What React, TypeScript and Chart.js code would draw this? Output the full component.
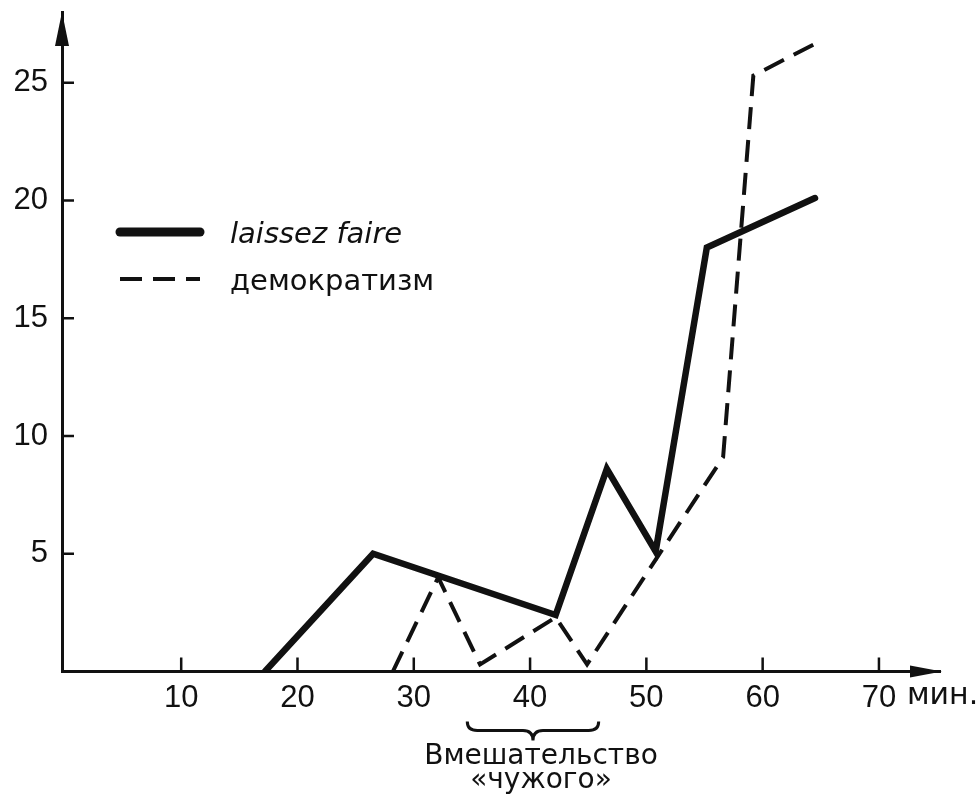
import { useEffect, useRef } from 'react'
import { Chart, registerables, type ChartConfiguration, type Plugin } from 'chart.js'

Chart.register(...registerables)

// minutes / count
const laissezMinutes = [17.2, 26.5, 42.2, 46.6, 50.8, 55.2, 64.5]
const laissezValues = [0, 5, 2.4, 8.6, 5.1, 18, 20.1]
const democratMinutes = [28.2, 32.1, 35.7, 42.2, 44.9, 51, 56.6, 59.2, 64.7]
const democratValues = [0, 4, 0.3, 2.3, 0.3, 4.9, 9.1, 25.3, 26.7]

const xTickValues = [10, 20, 30, 40, 50, 60, 70]
const yTickValues = [5, 10, 15, 20, 25]
const xUnit = 'мин.'
const seriesLabels = ['laissez faire', 'демократизм']
const interventionSpan = [34.6, 45.9]
const interventionLabel = ['Вмешательство', '«чужого»']

const INK = '#111111'
const TEXT_FONT = '"DejaVu Sans", "Liberation Sans", sans-serif'
const TICK_FONT = '"Liberation Sans", Arial, sans-serif'

const toPoints = (xs: number[], ys: number[]) => xs.map((x, i) => ({ x, y: ys[i] }))

const bookDecor: Plugin<'line'> = {
  id: 'bookDecor',
  afterDraw(chart) {
    const { ctx, chartArea, scales } = chart
    const xScale = scales.x
    const yScale = scales.y
    const left = chartArea.left
    const bottom = chartArea.bottom

    ctx.save()
    ctx.strokeStyle = INK
    ctx.fillStyle = INK

    // arrow heads
    ctx.beginPath()
    ctx.moveTo(left, chartArea.top)
    ctx.lineTo(left - 7, chartArea.top + 34)
    ctx.lineTo(left + 7, chartArea.top + 34)
    ctx.closePath()
    ctx.fill()
    ctx.beginPath()
    ctx.moveTo(chartArea.right + 2, bottom)
    ctx.lineTo(chartArea.right - 30, bottom - 6)
    ctx.lineTo(chartArea.right - 30, bottom + 6)
    ctx.closePath()
    ctx.fill()

    // inward tick marks
    ctx.lineWidth = 2.5
    ctx.beginPath()
    yTickValues.forEach((v) => {
      const y = yScale.getPixelForValue(v)
      ctx.moveTo(left, y)
      ctx.lineTo(left + 12, y)
    })
    xTickValues.forEach((v) => {
      const x = xScale.getPixelForValue(v)
      ctx.moveTo(x, bottom)
      ctx.lineTo(x, bottom - 14)
    })
    ctx.stroke()

    // unit after the last tick label
    ctx.font = `30px ${TEXT_FONT}`
    ctx.textAlign = 'left'
    ctx.textBaseline = 'alphabetic'
    ctx.fillText(xUnit, xScale.getPixelForValue(xTickValues[xTickValues.length - 1]) + 28, bottom + 32)

    // legend
    const legendX = 120
    const rows = [232, 279]
    chart.data.datasets.forEach((ds, i) => {
      const y = rows[i]
      ctx.save()
      ctx.lineWidth = i === 0 ? 9 : 4
      ctx.setLineDash((ds as { borderDash?: number[] }).borderDash ?? [])
      ctx.lineCap = i === 0 ? 'round' : 'butt'
      ctx.beginPath()
      ctx.moveTo(legendX, y)
      ctx.lineTo(legendX + 80, y)
      ctx.stroke()
      ctx.restore()
      ctx.font = `${i === 0 ? 'italic ' : ''}29px ${TEXT_FONT}`
      ctx.fillText(seriesLabels[i], 230, y + 11)
    })

    // brace under the x axis
    const xa = xScale.getPixelForValue(interventionSpan[0])
    const xb = xScale.getPixelForValue(interventionSpan[1])
    const mid = (xa + xb) / 2
    const y0 = bottom + 50
    const y1 = bottom + 59
    const y2 = bottom + 69
    const r = 10
    ctx.lineWidth = 3
    ctx.beginPath()
    ctx.moveTo(xa, y0)
    ctx.quadraticCurveTo(xa, y1, xa + r, y1)
    ctx.lineTo(mid - r, y1)
    ctx.quadraticCurveTo(mid, y1, mid, y2)
    ctx.quadraticCurveTo(mid, y1, mid + r, y1)
    ctx.lineTo(xb - r, y1)
    ctx.quadraticCurveTo(xb, y1, xb, y0)
    ctx.stroke()

    ctx.font = `28px ${TEXT_FONT}`
    ctx.textAlign = 'center'
    ctx.fillText(interventionLabel[0], mid + 8, bottom + 92)
    ctx.fillText(interventionLabel[1], mid + 8, bottom + 116)

    ctx.restore()
  },
}

const App = () => {
  const canvasRef = useRef<HTMLCanvasElement | null>(null)

  useEffect(() => {
    if (!canvasRef.current) {
      return undefined
    }

    const config: ChartConfiguration<'line'> = {
      type: 'line',
      data: {
        datasets: [
          {
            label: seriesLabels[0],
            data: toPoints(laissezMinutes, laissezValues),
            borderColor: INK,
            borderWidth: 6.5,
            borderJoinStyle: 'miter',
            borderCapStyle: 'round',
            pointRadius: 0,
            tension: 0,
          },
          {
            label: seriesLabels[1],
            data: toPoints(democratMinutes, democratValues),
            borderColor: INK,
            borderWidth: 4,
            borderDash: [22, 11],
            borderJoinStyle: 'miter',
            pointRadius: 0,
            tension: 0,
          },
        ],
      },
      options: {
        animation: false,
        responsive: true,
        maintainAspectRatio: false,
        layout: {
          padding: { top: 12, right: 37, left: 0, bottom: 0 },
        },
        scales: {
          x: {
            type: 'linear',
            min: -0.25,
            max: 75.25,
            afterBuildTicks: (scale) => {
              scale.ticks = xTickValues.map((value) => ({ value }))
            },
            afterFit: (scale) => {
              scale.height = 128.5
              scale.paddingLeft = 0
              scale.paddingRight = 0
            },
            grid: { display: false, drawTicks: false },
            border: { display: true, width: 3, color: INK },
            ticks: {
              color: INK,
              padding: 8,
              maxRotation: 0,
              font: { family: TICK_FONT, size: 31 },
            },
          },
          y: {
            type: 'linear',
            min: 0,
            max: 28,
            afterBuildTicks: (scale) => {
              scale.ticks = yTickValues.map((value) => ({ value }))
            },
            afterFit: (scale) => {
              scale.width = 62
              scale.paddingTop = 0
              scale.paddingBottom = 0
            },
            grid: { display: false, drawTicks: false },
            border: { display: true, width: 3, color: INK },
            ticks: {
              color: INK,
              padding: 14,
              font: { family: TICK_FONT, size: 31 },
            },
          },
        },
        plugins: {
          legend: { display: false },
          tooltip: { enabled: false },
        },
      },
      plugins: [bookDecor],
    }

    const chart = new Chart(canvasRef.current, config)

    return () => {
      chart.destroy()
    }
  }, [])

  return (
    <div style={{ position: 'absolute', left: 0, top: 0, width: 977, height: 800, background: '#fff' }}>
      <canvas ref={canvasRef} aria-label="laissez faire и демократизм по минутам" />
    </div>
  )
}

export default App
